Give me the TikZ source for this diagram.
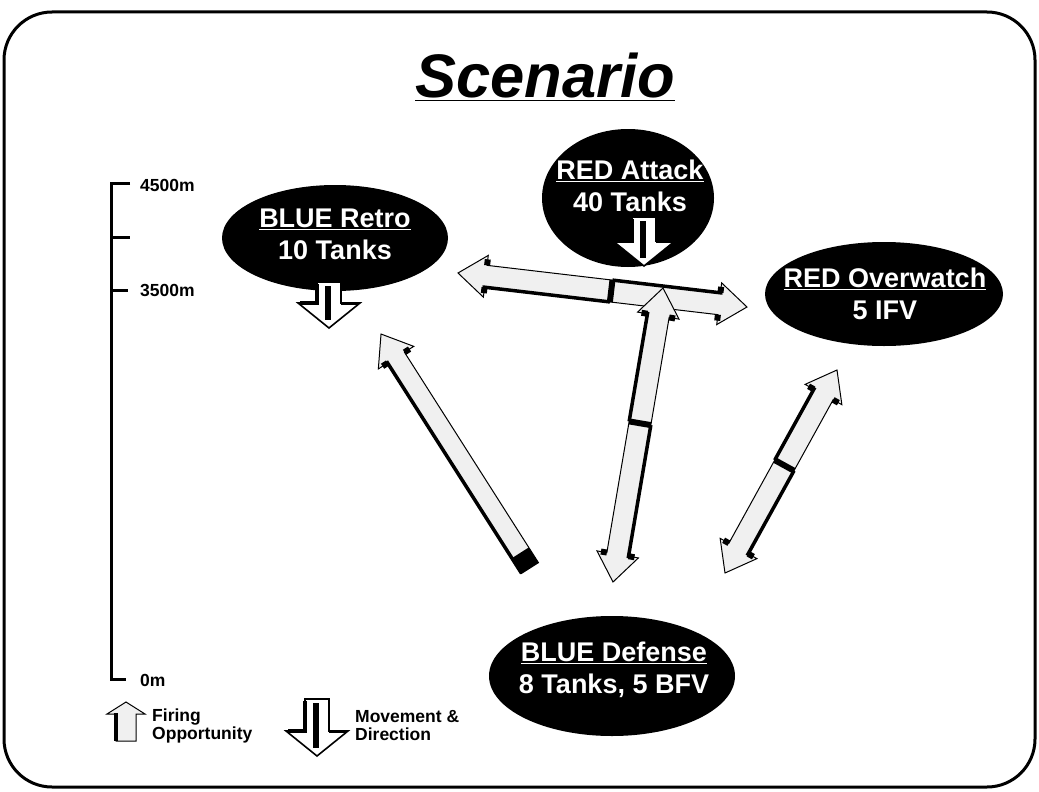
\documentclass[tikz,border=0pt]{standalone}
\usepackage{fontspec}
\setmainfont{Liberation Sans}
\usetikzlibrary{shapes.geometric,calc,positioning}

% double firing arrow between two tips, #3 = position of the split band
\newcommand\firedouble[3]{%
  \path let \p1=($(#2)-(#1)$) in
    \pgfextra{\pgfmathsetmacro\fang{atan2(\y1,\x1)}%
              \pgfmathsetmacro\flen{veclen(\x1,\y1)}%
              \xdef\fireang{\fang}\xdef\firelen{\flen}};
  \begin{scope}[shift={(#1)}, rotate=\fireang, x=1pt, y=1pt]
    \pgfmathsetmacro\fireband{#3*\firelen}
    \filldraw[firebody] (0,0) -- (28,21) -- (28,11) -- (\firelen-28,11)
      -- (\firelen-28,21) -- (\firelen,0) -- (\firelen-28,-21)
      -- (\firelen-28,-11) -- (28,-11) -- (28,-21) -- cycle;
    \draw[fireshade] (26,-11) -- (\fireband,-11);
    \draw[fireshade] (\fireband,11) -- (\firelen-26,11);
    \draw[line width=6pt] (\fireband,-11) -- (\fireband,11);
    \foreach \bx in {28,\firelen-28}
      \foreach \by in {1,-1}
        \fill (\bx-3,11*\by) rectangle (\bx+3,17*\by);
  \end{scope}}

% single firing arrow from tail #1 to tip #2
\newcommand\firesingle[2]{%
  \path let \p1=($(#2)-(#1)$) in
    \pgfextra{\pgfmathsetmacro\fang{atan2(\y1,\x1)}%
              \pgfmathsetmacro\flen{veclen(\x1,\y1)}%
              \xdef\fireang{\fang}\xdef\firelen{\flen}};
  \begin{scope}[shift={(#1)}, rotate=\fireang, x=1pt, y=1pt]
    \filldraw[firebody] (0,-10) -- (\firelen-28,-10) -- (\firelen-28,-21)
      -- (\firelen,0) -- (\firelen-28,21) -- (\firelen-28,10) -- (0,10) -- cycle;
    \draw[fireshade] (0,10) -- (\firelen-26,10);
    \fill (0,-10) rectangle (18,10);
    \foreach \by in {1,-1}
      \fill (\firelen-31,10*\by) rectangle (\firelen-25,16*\by);
  \end{scope}}

% movement arrow pointing down, tip at #1, shaft length #2
\newcommand\movearrow[2]{%
  \begin{scope}[shift={(#1)}]
    \filldraw[movebody] (0,0) -- (-31,-25) -- (-12,-25) -- (-12,-25-#2)
      -- (12,-25-#2) -- (12,-25) -- (31,-25) -- cycle;
    \draw[line width=4pt] (-29,-25) -- (-12,-25) -- (-12,-23-#2);
    \draw[line width=3pt] (12,-25) -- (29,-25);
    \fill (-4,-21-#2) rectangle (2,-8);
  \end{scope}}

\begin{document}
\begin{tikzpicture}[
    x=1pt, y=-1pt,
    unit/.style={ellipse, fill=black, draw=none, inner sep=0pt},
    unittext/.style={text=white, align=center, inner sep=0pt,
                     font=\fontsize{27}{32}\selectfont\bfseries},
    firebody/.style={draw=black, line width=1pt, fill=black!6, line join=miter},
    fireshade/.style={line width=3.5pt},
    movebody/.style={draw=black, line width=1.6pt, fill=white, line join=miter},
    scalebar/.style={line width=3pt},
    smalltext/.style={font=\fontsize{17.5}{18}\selectfont\bfseries,
                      inner sep=0pt, anchor=west, align=left},
  ]
  \useasboundingbox (0,0) rectangle (1039,792);

  % frame and title
  \draw[line width=3pt, rounded corners=48pt] (4,12) rectangle (1035,787);
  \node[font=\fontsize{61.5}{70}\selectfont\bfseries\itshape, anchor=base]
    (title) at (545,98) {\underline{Scenario}};

  % units
  \node[unit, minimum width=226pt, minimum height=106pt] (retro) at (335,238) {};
  \node[unittext] (retrotext) at (335,234) {\underline{BLUE Retro}\\10 Tanks};
  \node[unit, minimum width=172pt, minimum height=138pt] (attack) at (628,198) {};
  \node[unittext] (attacktext) at (630,186) {\underline{RED Attack}\\40 Tanks};
  \node[unit, minimum width=238pt, minimum height=104pt] (overwatch) at (884,294) {};
  \node[unittext] (overwatchtext) at (885,294) {\underline{RED Overwatch}\\5 IFV};
  \node[unit, minimum width=246pt, minimum height=120pt] (defense) at (612,676) {};
  \node[unittext] (defensetext) at (614,670) {\underline{BLUE Defense}\\8 Tanks, 5 BFV};

  % firing opportunities
  \coordinate (hleft) at (458,273);
  \coordinate (hright) at (747,307);
  \coordinate (vbot) at (613,582);
  \coordinate (vtop) at (663,288);
  \coordinate (rbot) at (725,573);
  \coordinate (rtop) at (837,370);
  \coordinate (btail) at (530,568);
  \coordinate (btip) at (381,334);
  \firedouble{hleft}{hright}{0.53}
  \firedouble{vbot}{vtop}{0.54}
  \firedouble{rbot}{rtop}{0.53}
  \firesingle{btail}{btip}

  % movements
  \coordinate (retromove) at (329,328);
  \coordinate (attackmove) at (644,266);
  \movearrow{retromove}{21}
  \movearrow{attackmove}{24}

  % range scale
  \coordinate (s4500) at (111,183);
  \coordinate (s4000) at (111,237);
  \coordinate (s3500) at (111,290);
  \coordinate (s0) at (111,679);
  \draw[scalebar] ($(s4500)+(19,0)$) -- (s4500) -- (s0) -- ++(15,0);
  \draw[scalebar] (s4000) -- ++(19,0);
  \draw[scalebar] (s3500) -- ++(17,0);
  \node[smalltext] (l4500) at (140,185) {4500m};
  \node[smalltext] (l3500) at (140,290) {3500m};
  \node[smalltext] (l0) at (140,680) {0m};

  % legend
  \filldraw[firebody] (126,702) -- (145,714) -- (136,714) -- (136,741)
    -- (116,741) -- (116,714) -- (107,714) -- cycle;
  \draw[fireshade] (116,713) -- (116,741);
  \node[smalltext] (firelegend) at (152,726) {Firing\\Opportunity};
  \coordinate (legmove) at (317,756);
  \movearrow{legmove}{32}
  \node[smalltext] (movelegend) at (355,726) {Movement \&\\Direction};
\end{tikzpicture}
\end{document}
